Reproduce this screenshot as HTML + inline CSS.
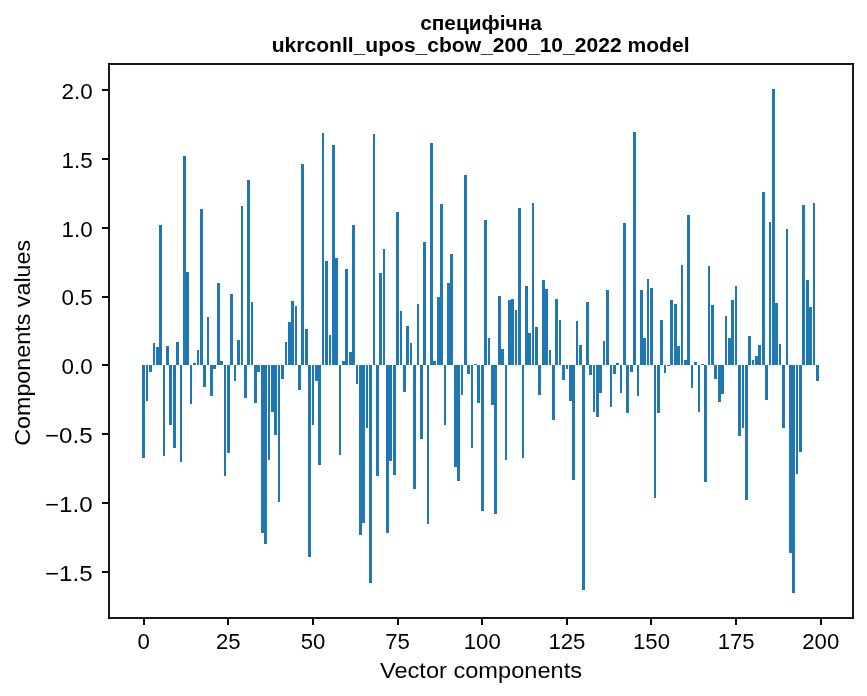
<!DOCTYPE html>
<html><head><meta charset="utf-8"><style>
html,body{margin:0;padding:0;background:#fff;}
body{width:867px;height:696px;overflow:hidden;}
svg{display:block;will-change:transform;}
text{font-family:"Liberation Sans",sans-serif;fill:#000;}
</style></head><body>
<svg width="867" height="696" viewBox="0 0 867 696">
<rect x="0" y="0" width="867" height="696" fill="#fff"/>
<path d="M142 365H145V458H142ZM146 365H148V401H146ZM149 365H152V372H149ZM153 343H155V365H153ZM156 347H159V365H156ZM159 225H162V365H159ZM163 365H165V456H163ZM166 346H169V365H166ZM169 365H172V425H169ZM173 365H176V448H173ZM176 342H179V365H176ZM180 365H182V462H180ZM183 156H186V365H183ZM186 272H189V365H186ZM190 365H192V404H190ZM193 363H196V365H193ZM197 350H199V365H197ZM200 209H203V365H200ZM203 365H206V387H203ZM207 317H209V365H207ZM210 365H213V396H210ZM213 365H216V369H213ZM217 283H220V365H217ZM220 361H223V365H220ZM224 365H226V476H224ZM227 365H230V453H227ZM230 294H233V365H230ZM234 365H236V381H234ZM237 340H240V365H237ZM241 206H243V365H241ZM244 365H247V398H244ZM247 180H250V365H247ZM251 302H253V365H251ZM254 365H257V403H254ZM257 365H260V372H257ZM261 365H264V533H261ZM264 365H267V544H264ZM268 365H270V460H268ZM271 365H274V412H271ZM274 365H277V435H274ZM278 365H280V502H278ZM281 365H284V379H281ZM285 342H287V365H285ZM288 322H291V365H288ZM291 301H294V365H291ZM295 306H297V365H295ZM298 365H301V390H298ZM301 164H304V365H301ZM305 329H308V365H305ZM308 365H311V557H308ZM312 365H314V425H312ZM315 365H318V381H315ZM318 365H321V465H318ZM322 133H324V365H322ZM325 261H328V365H325ZM329 335H331V365H329ZM332 145H335V365H332ZM335 258H338V365H335ZM339 365H341V455H339ZM342 361H345V365H342ZM345 269H348V365H345ZM349 352H352V365H349ZM352 225H355V365H352ZM356 365H358V384H356ZM359 365H362V535H359ZM362 365H365V523H362ZM366 365H368V428H366ZM369 365H372V583H369ZM373 134H375V365H373ZM376 365H379V476H376ZM379 273H382V365H379ZM383 249H385V365H383ZM386 365H389V533H386ZM389 365H392V461H389ZM393 365H396V475H393ZM396 212H399V365H396ZM400 311H402V365H400ZM403 365H406V392H403ZM406 326H409V365H406ZM410 343H412V365H410ZM413 365H416V489H413ZM417 304H419V365H417ZM420 365H423V439H420ZM423 242H426V365H423ZM427 365H429V524H427ZM430 143H433V365H430ZM433 361H436V365H433ZM437 297H440V365H437ZM440 204H443V365H440ZM444 365H446V425H444ZM447 283H450V365H447ZM450 254H453V365H450ZM454 365H457V467H454ZM457 365H460V481H457ZM461 365H463V395H461ZM464 175H467V365H464ZM467 365H470V374H467ZM471 365H473V448H471ZM474 364H477V365H474ZM477 365H480V403H477ZM481 365H484V511H481ZM484 220H487V365H484ZM488 338H490V365H488ZM491 365H494V405H491ZM494 365H497V514H494ZM498 296H501V365H498ZM501 349H504V365H501ZM505 365H507V460H505ZM508 300H511V365H508ZM511 299H514V365H511ZM515 310H517V365H515ZM518 208H521V365H518ZM522 365H524V458H522ZM525 286H528V365H525ZM528 333H531V365H528ZM532 203H534V365H532ZM535 327H538V365H535ZM538 365H541V395H538ZM542 280H545V365H542ZM545 289H548V365H545ZM549 350H551V365H549ZM552 365H555V420H552ZM555 299H558V365H555ZM559 320H561V365H559ZM562 365H565V380H562ZM566 365H568V369H566ZM569 365H572V401H569ZM572 365H575V480H572ZM576 321H578V365H576ZM579 345H582V365H579ZM582 365H585V590H582ZM586 302H589V365H586ZM589 365H592V375H589ZM593 365H595V412H593ZM596 365H599V417H596ZM599 365H602V393H599ZM603 341H605V365H603ZM606 290H609V365H606ZM610 365H612V407H610ZM613 365H616V374H613ZM616 363H619V365H616ZM620 365H622V393H620ZM623 223H626V365H623ZM626 365H629V413H626ZM630 365H633V372H630ZM633 132H636V365H633ZM637 365H639V396H637ZM640 290H643V365H640ZM643 338H646V365H643ZM647 279H649V365H647ZM650 288H653V365H650ZM654 365H656V498H654ZM657 365H660V413H657ZM660 320H663V365H660ZM664 365H666V373H664ZM667 365H670V366H667ZM670 300H673V365H670ZM674 304H677V365H674ZM677 346H680V365H677ZM681 265H683V365H681ZM684 360H687V365H684ZM687 215H690V365H687ZM691 365H693V388H691ZM694 362H697V365H694ZM698 365H700V412H698ZM701 364H704V365H701ZM704 365H707V482H704ZM708 266H710V365H708ZM711 305H714V365H711ZM714 365H717V379H714ZM718 365H721V402H718ZM721 365H724V394H721ZM725 316H727V365H725ZM728 338H731V365H728ZM731 300H734V365H731ZM735 286H737V365H735ZM738 365H741V436H738ZM742 365H744V428H742ZM745 365H748V500H745ZM748 336H751V365H748ZM752 360H754V365H752ZM755 356H758V365H755ZM758 345H761V365H758ZM762 192H765V365H762ZM765 365H768V400H765ZM769 222H771V365H769ZM772 89H775V365H772ZM775 303H778V365H775ZM779 344H781V365H779ZM782 365H785V428H782ZM786 229H788V365H786ZM789 365H792V553H789ZM792 365H795V593H792ZM796 365H798V474H796ZM799 365H802V452H799ZM802 205H805V365H802ZM806 280H809V365H806ZM809 307H812V365H809ZM813 203H815V365H813ZM816 365H819V381H816Z" fill="#1f77b4" shape-rendering="crispEdges"/>
<path d="M108 63H854V619H108Z M110 65V617H852V65Z" fill="#181818" fill-rule="evenodd" shape-rendering="crispEdges"/>
<path d="M108 63h2v2h-2ZM852 63h2v2h-2ZM108 617h2v2h-2ZM852 617h2v2h-2Z" fill="#000" shape-rendering="crispEdges"/>
<path d="M102 89H108V91H102ZM102 158H108V160H102ZM102 227H108V229H102ZM102 296H108V298H102ZM102 364H108V366H102ZM102 433H108V435H102ZM102 502H108V504H102ZM102 571H108V573H102ZM143 619H145V625H143ZM227 619H229V625H227ZM312 619H314V625H312ZM397 619H399V625H397ZM481 619H483V625H481ZM566 619H568V625H566ZM650 619H652V625H650ZM735 619H737V625H735ZM820 619H822V625H820Z" fill="#080808" shape-rendering="crispEdges"/>
<g style="font-size:22.5px">
<text x="92.6" y="98.80" text-anchor="end" textLength="31.13" lengthAdjust="spacingAndGlyphs">2.0</text>
<text x="92.6" y="167.66" text-anchor="end" textLength="31.13" lengthAdjust="spacingAndGlyphs">1.5</text>
<text x="92.6" y="236.52" text-anchor="end" textLength="31.13" lengthAdjust="spacingAndGlyphs">1.0</text>
<text x="92.6" y="305.37" text-anchor="end" textLength="31.13" lengthAdjust="spacingAndGlyphs">0.5</text>
<text x="92.6" y="374.23" text-anchor="end" textLength="31.13" lengthAdjust="spacingAndGlyphs">0.0</text>
<text x="92.6" y="443.09" text-anchor="end" textLength="47.54" lengthAdjust="spacingAndGlyphs">−0.5</text>
<text x="92.6" y="511.94" text-anchor="end" textLength="47.54" lengthAdjust="spacingAndGlyphs">−1.0</text>
<text x="92.6" y="580.80" text-anchor="end" textLength="47.54" lengthAdjust="spacingAndGlyphs">−1.5</text>
<text x="143.71" y="649.2" text-anchor="middle" textLength="12.32" lengthAdjust="spacingAndGlyphs">0</text>
<text x="228.34" y="649.2" text-anchor="middle" textLength="24.64" lengthAdjust="spacingAndGlyphs">25</text>
<text x="312.97" y="649.2" text-anchor="middle" textLength="24.64" lengthAdjust="spacingAndGlyphs">50</text>
<text x="397.60" y="649.2" text-anchor="middle" textLength="24.64" lengthAdjust="spacingAndGlyphs">75</text>
<text x="482.23" y="649.2" text-anchor="middle" textLength="36.96" lengthAdjust="spacingAndGlyphs">100</text>
<text x="566.87" y="649.2" text-anchor="middle" textLength="36.96" lengthAdjust="spacingAndGlyphs">125</text>
<text x="651.50" y="649.2" text-anchor="middle" textLength="36.96" lengthAdjust="spacingAndGlyphs">150</text>
<text x="736.13" y="649.2" text-anchor="middle" textLength="36.96" lengthAdjust="spacingAndGlyphs">175</text>
<text x="820.76" y="649.2" text-anchor="middle" textLength="36.96" lengthAdjust="spacingAndGlyphs">200</text>
<text style="font-size:22.6px" x="481" y="678" text-anchor="middle" textLength="202" lengthAdjust="spacingAndGlyphs">Vector components</text>
<text style="font-size:22.6px" transform="translate(30 342.8) rotate(-90)" x="0" y="0" text-anchor="middle" textLength="206" lengthAdjust="spacingAndGlyphs">Components values</text>
</g>
<g style="font-size:20.83px;font-weight:bold">
<text x="481" y="30.2" text-anchor="middle">специфічна</text>
<text x="480.6" y="52.2" text-anchor="middle" textLength="417.8" lengthAdjust="spacingAndGlyphs">ukrconll_upos_cbow_200_10_2022 model</text>
</g>
</svg>
</body></html>
